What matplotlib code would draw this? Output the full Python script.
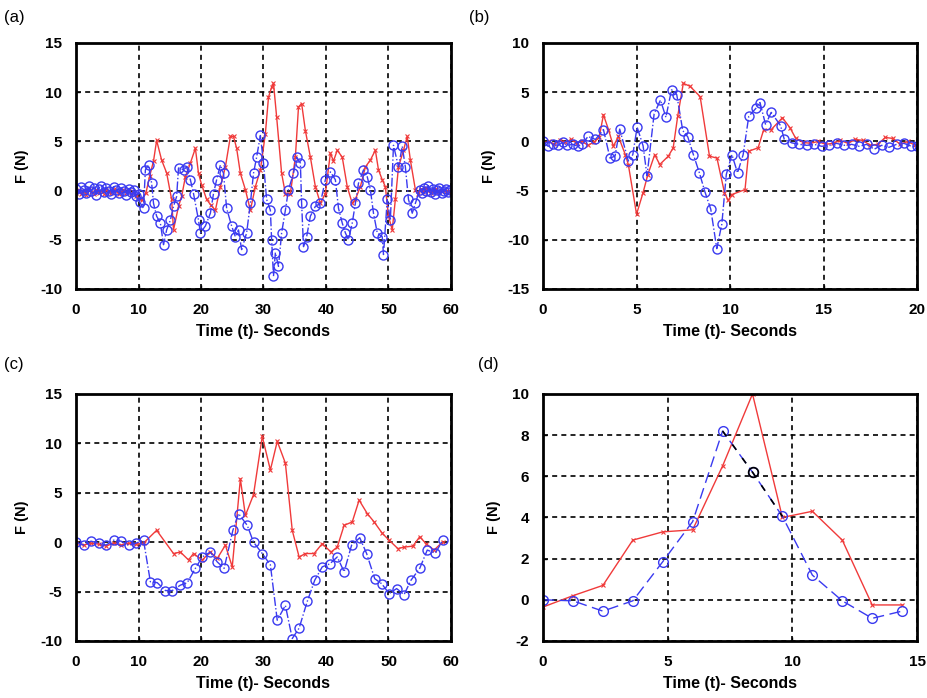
import numpy as np
import matplotlib
matplotlib.use("Agg")
from matplotlib import pyplot as plt

plt.rcParams['font.family'] = ['Liberation Sans', 'DejaVu Sans']
plt.rcParams['axes.unicode_minus'] = False

RED = '#f03a3a'
BLUE = '#3a3af0'

# ---- panel (a): 0-60 s ----
a_red_t = [0.0, 0.4, 0.8, 1.2, 1.6, 2.0, 2.4, 2.8, 3.2, 3.6, 4.0, 4.4, 4.8, 5.2, 5.6,
           6.0, 6.4, 6.8, 7.2, 7.6, 8.0, 8.4, 8.8, 9.2, 9.6, 10.0,
           10.5, 11.2, 11.8, 12.4, 12.9, 13.7, 14.5, 15.3, 15.6, 16.4,
           16.9, 17.5, 18.3, 19.1, 19.6, 20.1, 20.9, 21.6, 22.3, 23.1,
           23.9, 24.7, 25.2, 25.7, 26.3, 27.1, 27.9, 28.7, 29.5, 30.3,
           30.8, 31.3, 31.6, 32.1, 32.9, 33.5, 34.3, 35.1, 35.6, 36.1,
           36.7, 37.5, 38.3, 39.1, 39.9, 40.7, 41.2, 41.8, 42.6, 43.4,
           44.2, 44.7, 45.5, 46.3, 47.1, 47.9, 48.4, 49.0, 49.5, 50.0,
           50.6, 51.1, 51.6, 52.4, 53.0, 53.5, 54.3,
           54.8, 55.2, 55.6, 56.0, 56.4, 56.8, 57.2, 57.6, 58.0, 58.4, 58.8, 59.2, 59.6, 60.0]
a_red_f = [-0.2, 0.1, -0.3, 0.0, -0.4, 0.2, -0.1, -0.3, 0.1, -0.2, 0.0, -0.3, 0.1, -0.1, -0.2,
           0.2, 0.0, -0.3, -0.1, 0.1, -0.2, 0.0, -0.3, -0.1, -0.5, -0.8,
           -1.0, -0.2, 1.5, 3.0, 5.1, 3.1, 1.8, -0.9, -4.0, -1.6,
           -0.6, 1.4, 2.8, 4.3, 1.75, 0.6, -0.9, -1.5, -2.0, 0.4,
           2.4, 5.5, 5.5, 4.3, 1.75, 0.1, -2.0, 0.4, 2.1, 5.8,
           9.5, 10.5, 10.9, 7.5, 1.75, -0.3, -0.3, 3.4, 8.5, 8.85,
           6.1, 3.4, 0.4, -1.3, -0.3, 3.8, 3.0, 4.1, 3.4, 0.4,
           -1.3, -0.9, 0.4, 2.4, 3.1, 4.1, 2.1, 1.1, 0.4, -2.6,
           -4.0, -0.9, 2.4, 4.1, 5.5, 3.1, 0.1,
           -0.3, 0.2, -0.1, 0.3, 0.0, -0.2, 0.1, 0.2, -0.1, 0.0, 0.1, -0.1, 0.0, -0.1]

a_blue_t = [0.0, 0.4, 0.8, 1.2, 1.6, 2.0, 2.4, 2.8, 3.2, 3.6, 4.0, 4.4, 4.8, 5.2, 5.6,
            6.0, 6.4, 6.8, 7.2, 7.6, 8.0, 8.4, 8.8, 9.2, 9.6, 10.0,
            10.2, 10.8, 11.1, 11.6, 12.1, 12.4, 12.9, 13.5, 14.0, 14.5,
            15.1, 15.6, 16.1, 16.4, 17.2, 17.7, 18.3, 18.8, 19.6, 19.9,
            20.7, 21.5, 22.0, 22.5, 23.1, 23.6, 24.1, 24.9, 25.5, 26.0,
            26.5, 27.3, 27.9, 28.4, 28.9, 29.5, 30.0, 30.5, 31.1, 31.3,
            31.6, 31.9, 32.4, 32.9, 33.5, 34.0, 34.8, 35.3, 35.9, 36.1,
            36.4, 36.9, 37.5, 38.3, 39.1, 39.9, 40.7, 41.5, 42.0, 42.6,
            43.1, 43.6, 44.2, 44.7, 45.2, 46.0, 46.6, 47.1, 47.6, 48.2,
            49.0, 49.2, 49.8, 50.3, 50.8, 51.6, 52.2, 52.7, 53.2, 53.8,
            54.3,
            55.0, 55.35, 55.7, 56.05, 56.4, 56.75, 57.1, 57.45, 57.8, 58.15, 58.5, 58.85, 59.2, 59.55, 59.9]
a_blue_f = [0.2, -0.3, 0.4, 0.1, -0.2, 0.5, 0.0, 0.3, -0.4, 0.2, 0.5, -0.1, 0.3, 0.0, -0.3,
            0.4, 0.1, -0.2, 0.3, 0.0, -0.4, 0.2, -0.1, 0.1, -0.5, -0.3,
            -1.2, -1.8, 2.1, 2.6, 0.75, -1.3, -2.6, -3.3, -5.5, -4.0,
            -3.0, -1.6, -0.6, 2.3, 2.1, 2.4, 1.1, -0.3, -3.0, -4.3,
            -3.6, -2.3, -0.3, 1.1, 2.6, 1.75, -1.8, -3.6, -4.7, -4.0,
            -6.0, -4.3, -1.3, 1.75, 3.4, 5.6, 2.8, -0.9, -2.0, -5.0,
            -8.7, -6.3, -7.7, -4.3, -2.0, 0.1, 1.75, 3.4, 2.8, -1.3,
            -5.7, -4.7, -2.6, -1.6, -1.3, 1.1, 1.9, 1.1, -1.8, -3.3,
            -4.3, -5.0, -3.3, -1.3, 0.75, 2.1, 1.4, 0.1, -2.3, -4.3,
            -4.7, -6.5, -0.9, -3.0, 4.6, 2.4, 4.5, 2.4, -0.9, -2.3,
            -1.3,
            0.1, -0.2, 0.3, 0.0, 0.5, -0.1, 0.2, -0.3, 0.1, 0.3, -0.2, 0.0, 0.2, -0.1, 0.1]

# ---- panel (b): 0-20 s ----
b_red_t = [0.0, 0.3, 0.6, 0.9, 1.2, 1.5, 1.8, 2.1, 2.4, 2.7, 3.0,
           3.23, 3.5, 3.76, 4.03, 4.4, 4.56, 5.0, 5.35, 5.6, 5.97,
           6.24, 6.7, 6.96, 7.2, 7.5, 7.86, 8.4, 8.9, 9.3, 9.7,
           9.9, 10.1, 10.8, 11.0, 11.5, 11.8, 12.2, 12.8, 13.2, 13.5,
           13.9, 14.3, 14.7, 15.1, 15.5, 15.9, 16.3, 16.7, 17.1, 17.5,
           17.9, 18.3, 18.7, 19.1, 19.5, 19.9]
b_red_f = [-0.2, 0.0, -0.3, 0.1, -0.1, 0.2, -0.2, 0.0, -0.4, -0.1, 0.4,
           2.7, 1.2, -0.5, 0.5, -1.35, -2.35, -7.4, -5.2, -3.4, -1.35,
           -2.35, -1.5, -0.65, 2.55, 5.9, 5.6, 4.55, -1.5, -1.7, -5.2,
           -6.0, -5.4, -4.9, -1.0, -0.65, 1.2, 1.2, 2.4, 1.4, 0.35,
           -0.1, -0.2, 0.0, -0.3, -0.2, 0.1, -0.2, 0.2, 0.1, -0.4,
           -0.3, 0.4, 0.3, -0.3, 0.0, -0.4]

b_blue_t = [0.0, 0.27, 0.55, 0.8, 1.05, 1.3, 1.6, 1.85, 2.1, 2.4,
            2.8, 3.23, 3.58, 3.85, 4.1, 4.56, 4.8, 5.03, 5.35, 5.56,
            5.94, 6.28, 6.57, 6.87, 7.15, 7.47, 7.74, 8.04, 8.36, 8.66,
            8.97, 9.29, 9.56, 9.8, 10.1, 10.4, 10.7, 11.0, 11.4, 11.6,
            11.9, 12.2, 12.7, 12.9, 13.3,
            13.7, 14.1, 14.5, 14.9, 15.3, 15.7, 16.1, 16.5, 16.9, 17.3,
            17.7, 18.1, 18.5, 18.9, 19.3, 19.7, 20.0]
b_blue_f = [0.0, -0.5, -0.3, -0.4, -0.1, -0.4, -0.3, -0.5, -0.3, 0.5,
            0.2, 1.2, -1.7, -1.5, 1.25, -2.0, -1.35, 1.45, -0.45, -3.5,
            2.8, 4.2, 2.45, 5.25, 4.75, 1.1, 0.45, -1.35, -3.2, -5.15,
            -6.9, -10.9, -8.4, -3.35, -1.35, -3.2, -1.35, 2.55, 3.4, 3.95,
            1.7, 2.95, 1.6, 0.2, -0.15,
            -0.3, -0.4, -0.3, -0.5, -0.4, -0.2, -0.4, -0.3, -0.5, -0.3,
            -0.8, -0.4, -0.6, -0.3, -0.2, -0.5, -0.5]

# ---- panel (c): 0-60 s ----
c_red_t = [0.0, 1.2, 2.4, 3.6, 4.8, 6.0, 7.2, 8.4, 9.6, 10.8,
           12.9, 15.6, 16.7, 18.0, 18.8, 20.2, 21.5, 22.6, 23.9, 25.0,
           26.3, 27.1, 28.4, 29.8, 31.1, 32.2, 33.5, 34.6, 35.7, 36.7,
           38.1, 39.4, 40.8, 41.8, 42.9, 44.2, 45.3, 46.6, 47.7, 49.0,
           50.1, 51.5, 52.5, 53.9, 55.0, 56.0, 57.3, 58.7]
c_red_f = [-0.1, -0.3, -0.1, -0.2, -0.4, -0.1, -0.3, -0.1, -0.2, -0.1,
           1.2, -1.15, -1.0, -1.8, -1.15, -1.8, -1.0, -1.65, -0.3, -2.5,
           6.4, 2.7, 4.8, 10.7, 7.3, 10.2, 8.0, 1.2, -1.5, -1.15,
           -1.15, -0.15, -1.0, -0.5, 1.7, 2.05, 4.25, 2.9, 2.05, 0.9,
           0.2, -0.65, -0.5, -0.4, 0.55, -0.15, -0.8, 0.05]

c_blue_t = [0.0, 1.2, 2.4, 3.6, 4.8, 6.0, 7.2, 8.4, 9.6, 10.8,
            11.9, 13.0, 14.3, 15.4, 16.7, 17.8, 19.1, 20.2, 21.5, 22.6,
            23.7, 25.1, 26.0, 27.4, 28.4, 29.8, 31.1, 32.2, 33.5, 34.6,
            35.7, 37.0, 38.2, 39.4, 40.6, 41.8, 42.9, 44.1, 45.4, 46.5,
            47.8, 48.9, 50.1, 51.3, 52.5, 53.6, 55.0, 56.2, 57.5, 58.7]
c_blue_f = [0.0, -0.3, 0.1, -0.1, -0.3, 0.2, 0.1, -0.3, -0.1, 0.2,
            -4.0, -4.1, -4.9, -4.9, -4.35, -4.1, -2.65, -1.5, -1.0, -2.0,
            -2.65, 1.2, 2.9, 1.7, 0.0, -1.15, -2.3, -7.9, -6.4, -9.75,
            -8.7, -6.0, -3.85, -2.5, -2.2, -1.5, -3.0, -0.3, 0.45, -1.15,
            -3.7, -4.2, -5.2, -4.7, -5.3, -3.85, -2.65, -0.8, -1.1, 0.2]

# ---- panel (d): 0-15 s ----
d_t = [0.0, 1.2, 2.4, 3.6, 4.8, 6.0, 7.2, 8.4, 9.6, 10.8, 12.0, 13.2, 14.4]
d_red_f = [-0.35, 0.2, 0.7, 2.9, 3.3, 3.4, 6.5, 10.0, 4.0, 4.3, 2.9, -0.25, -0.25]
d_blue_f = [0.0, -0.05, -0.55, -0.05, 1.85, 3.8, 8.2, 6.2, 4.05, 1.2, -0.05, -0.9, -0.55]


def style_axis(ax, xlim, ylim, xticks, yticks):
    ax.set_xlim(xlim)
    ax.set_ylim(ylim)
    ax.set_xticks(xticks)
    ax.set_yticks(yticks)
    ax.grid(True, color='black', linestyle=(0, (3, 2.5)), linewidth=1.2)
    ax.set_axisbelow(True)
    for sp in ax.spines.values():
        sp.set_linewidth(2.0)
    ax.tick_params(direction='in', length=3, width=1, labelsize=11, pad=10)
    for lab in ax.get_xticklabels() + ax.get_yticklabels():
        lab.set_fontweight('bold')
    ax.set_xlabel('Time (t)- Seconds', fontsize=11.5, fontweight='bold', labelpad=5)
    ax.set_ylabel('F (N)', fontsize=10.5, fontweight='bold', labelpad=8)


fig = plt.figure(figsize=(9.27, 6.98), dpi=100)

ax_a = fig.add_axes([0.082, 0.586, 0.4045, 0.3524])
ax_b = fig.add_axes([0.5858, 0.586, 0.4035, 0.3524])
ax_c = fig.add_axes([0.082, 0.0817, 0.4045, 0.3539])
ax_d = fig.add_axes([0.5858, 0.0817, 0.4035, 0.3539])

# (a)
ax_a.plot(a_red_t, a_red_f, color=RED, lw=1.0, marker='x', ms=3, mew=0.8)
ax_a.plot(a_blue_t, a_blue_f, color=BLUE, lw=1.0, ls='-.', marker='o', ms=6.5,
          mfc='none', mew=1.0)
style_axis(ax_a, (0, 60), (-10, 15), range(0, 61, 10), range(-10, 16, 5))

# (b)
ax_b.plot(b_red_t, b_red_f, color=RED, lw=1.0, marker='x', ms=3, mew=0.8)
ax_b.plot(b_blue_t, b_blue_f, color=BLUE, lw=1.0, ls='-.', marker='o', ms=6.5,
          mfc='none', mew=1.0)
style_axis(ax_b, (0, 20), (-15, 10), range(0, 21, 5), range(-15, 11, 5))

# (c)
ax_c.plot(c_red_t, c_red_f, color=RED, lw=1.0, marker='x', ms=3, mew=0.8)
ax_c.plot(c_blue_t, c_blue_f, color=BLUE, lw=1.0, ls='-.', marker='o', ms=6.5,
          mfc='none', mew=1.0)
style_axis(ax_c, (0, 60), (-10, 15), range(0, 61, 10), range(-10, 16, 5))

# (d)
ax_d.plot(d_t, d_red_f, color=RED, lw=1.0, marker='x', ms=3, mew=0.8)
ax_d.plot(d_t, d_blue_f, color=BLUE, lw=1.0, ls=(0, (8, 4)), marker='o', ms=7,
          mfc='none', mew=1.0)
# black highlighted point in the middle of the blue curve
ax_d.plot(d_t[6:9], d_blue_f[6:9], color='black', lw=1.2, ls=(0, (4, 6)),
          marker='o', ms=7, mfc='none', mew=1.2, markevery=[1])
style_axis(ax_d, (0, 15), (-2, 10), range(0, 16, 5), range(-2, 11, 2))

# panel letters
fig.text(0.004, 0.985, '(a)', fontsize=12, va='top', ha='left')
fig.text(0.506, 0.985, '(b)', fontsize=12, va='top', ha='left')
fig.text(0.004, 0.488, '(c)', fontsize=12, va='top', ha='left')
fig.text(0.516, 0.488, '(d)', fontsize=12, va='top', ha='left')

plt.savefig('out.png', dpi=100)
